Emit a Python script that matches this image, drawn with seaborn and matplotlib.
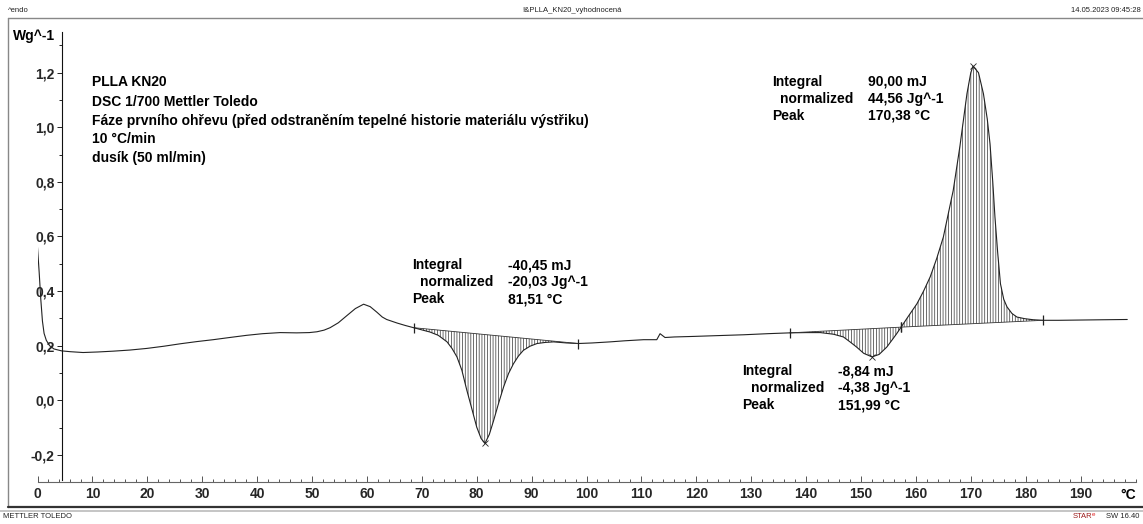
import numpy as np
import matplotlib
matplotlib.use('Agg')
import matplotlib.pyplot as plt
from matplotlib.lines import Line2D
from matplotlib.ticker import MultipleLocator, FixedLocator, FuncFormatter
import seaborn as sns

# DSC curve, first heating of PLLA KN20
temperature = [
    0.0, 0.3, 0.6, 0.9, 1.2, 1.6, 2.2, 3.0, 4.4, 6.0, 8.3, 11.0, 13.8, 16.8,
    19.9, 23.0, 26.0, 29.0, 32.0, 35.0, 38.1, 41.0, 44.2, 47.2, 49.5, 50.9,
    52.2, 53.3, 54.8, 56.4, 57.9, 59.4, 60.6, 61.8, 62.8, 63.6, 65.5, 67.0,
    68.5, 70.0, 71.5, 73.0, 74.6, 75.5, 76.4, 77.3, 78.2, 79.1, 80.0, 80.8,
    81.5, 82.3, 83.1, 84.0, 84.9, 85.8, 86.7, 87.6, 88.5, 89.7, 91.0, 92.5,
    94.0, 96.4, 98.5, 101.0, 104.3, 107.0, 110.4, 112.8, 113.4, 114.3, 116.0,
    119.5, 124.0, 128.6, 133.0, 137.0, 140.0, 142.6, 145.0, 146.8, 148.0,
    149.2, 150.5, 152.0, 153.3, 154.7, 155.7, 156.5, 157.3, 158.7, 160.2,
    161.4, 162.6, 163.8, 165.0, 166.8, 168.0, 169.3, 170.0, 170.4, 171.4,
    172.3, 173.0, 173.5, 174.0, 174.4, 174.9, 175.4, 176.0, 176.6, 177.5,
    178.4, 179.8, 181.4, 183.2, 186.0, 190.0, 194.0, 198.5,
]
heat_flow = [
    0.56, 0.47, 0.37, 0.29, 0.245, 0.22, 0.20, 0.188, 0.181, 0.178, 0.175,
    0.177, 0.18, 0.184, 0.19, 0.198, 0.207, 0.215, 0.222, 0.23, 0.238, 0.244,
    0.248, 0.247, 0.248, 0.251, 0.257, 0.266, 0.284, 0.311, 0.336, 0.352,
    0.343, 0.323, 0.305, 0.296, 0.283, 0.274, 0.266, 0.258, 0.25, 0.238,
    0.214, 0.19, 0.159, 0.11, 0.037, -0.03, -0.098, -0.14, -0.158, -0.125,
    -0.073, -0.01, 0.049, 0.098, 0.134, 0.162, 0.183, 0.198, 0.208, 0.212,
    0.214, 0.21, 0.208, 0.21, 0.214, 0.218, 0.222, 0.222, 0.244, 0.23, 0.232,
    0.234, 0.237, 0.24, 0.244, 0.247, 0.248, 0.248, 0.242, 0.232, 0.214,
    0.195, 0.172, 0.159, 0.168, 0.195, 0.222, 0.244, 0.268, 0.31, 0.354, 0.40,
    0.452, 0.52, 0.598, 0.769, 0.928, 1.123, 1.20, 1.224, 1.20, 1.123, 1.03,
    0.94, 0.80, 0.671, 0.54, 0.427, 0.37, 0.342, 0.318, 0.305, 0.299, 0.295,
    0.293, 0.293, 0.294, 0.295, 0.296,
]

# evaluated integrations: limits (°C) and results
integration_limits = [(68.5, 98.5), (137.0, 157.3), (157.3, 183.2)]
peak_temps = [81.51, 151.99, 170.38]
integral_mj = ['-40,45 mJ', '-8,84 mJ', '90,00 mJ']
normalized_jg = ['-20,03 Jg^-1', '-4,38 Jg^-1', '44,56 Jg^-1']
peak_text = ['81,51 °C', '151,99 °C', '170,38 °C']

info_lines = [
    'PLLA KN20',
    'DSC 1/700 Mettler Toledo',
    'Fáze prvního ohřevu (před odstraněním tepelné historie materiálu výstřiku)',
    '10 °C/min',
    'dusík (50 ml/min)',
]

x_major = list(range(0, 200, 10))
y_major = [-0.2, 0.0, 0.2, 0.4, 0.6, 0.8, 1.0, 1.2]

W, H = 1143, 524


def px(x, y):
    return x / W, 1 - y / H


sns.set_theme(style='white')
plt.rcParams['font.family'] = ['Liberation Sans', 'DejaVu Sans']
plt.rcParams['axes.unicode_minus'] = False
plt.rcParams['hatch.linewidth'] = 0.5

fig = plt.figure(figsize=(W / 100, H / 100), dpi=100)
fig.patch.set_facecolor('white')
ax = fig.add_axes([37.5 / W, (H - 482) / H, 1098 / W, 450 / H])
ax.set_facecolor('none')

sns.lineplot(x=temperature, y=heat_flow, ax=ax, color='#222222', lw=0.8,
             estimator=None, sort=False)

t = np.array(temperature)
q = np.array(heat_flow)
for (t0, t1), tp in zip(integration_limits, peak_temps):
    q0, q1 = np.interp([t0, t1], t, q)
    m = (t >= t0) & (t <= t1)
    base = np.interp(t[m], [t0, t1], [q0, q1])
    ax.fill_between(t[m], q[m], base, facecolor='none', edgecolor='#333333',
                    hatch='||||||', lw=0)
    ax.plot([t0, t1], [q0, q1], color='#333333', lw=0.6)
    ax.plot([t0, t1], [q0, q1], ls='none', marker='|', ms=7, mew=0.9,
            color='#222222')
    ax.plot([tp], [np.interp(tp, t, q)], ls='none', marker='x', ms=4,
            mew=0.6, color='#222222')

ax.set_xlim(0, 200)
ax.set_ylim(-0.2993, 1.3491)
ax.set_xlabel('')
ax.set_ylabel('')

for s in ['top', 'right']:
    ax.spines[s].set_visible(False)
ax.spines['left'].set_position(('data', 4.4))
ax.spines['left'].set_color('#111111')
ax.spines['left'].set_linewidth(0.8)
ax.spines['left'].set_bounds(-0.292, 1.349)
ax.spines['bottom'].set_color('#666666')
ax.spines['bottom'].set_linewidth(0.8)

ax.xaxis.set_major_locator(FixedLocator(x_major))
ax.xaxis.set_minor_locator(MultipleLocator(2))
ax.yaxis.set_major_locator(FixedLocator(y_major))
ax.yaxis.set_minor_locator(MultipleLocator(0.1))
ax.yaxis.set_major_formatter(FuncFormatter(lambda v, p: f'{v:.1f}'.replace('.', ',')))

ax.tick_params(axis='x', which='both', bottom=True, direction='in',
               color='#555555', width=0.7, labelsize=10, pad=3.5)
ax.tick_params(axis='x', which='major', length=4)
ax.tick_params(axis='x', which='minor', length=2)
ax.tick_params(axis='y', which='both', left=True, direction='out',
               color='#222222', width=0.7, labelsize=10, pad=1.5)
ax.tick_params(axis='y', which='major', length=3.5)
ax.tick_params(axis='y', which='minor', length=2.5)
for lab in ax.get_xticklabels() + ax.get_yticklabels():
    lab.set_fontweight('bold')

bold = dict(fontsize=10, fontweight='bold', color='black', va='baseline')
fig.text(*px(1128, 499), '°C', ha='center', **bold)
fig.text(*px(55, 40), 'Wg^-1', ha='right', **bold)

# measurement info block
for i, line in enumerate(info_lines):
    y = 86 + i * 18.5 + (1.5 if i else 0)
    fig.text(*px(92, y), line, ha='left', **bold)

# integration result blocks
blocks = [(411.7, 507.7, 269), (742.3, 837.7, 375), (771.7, 867.7, 85.7)]
for (xl, xv, yb), a, b, c in zip(blocks, integral_mj, normalized_jg, peak_text):
    fig.text(*px(xl, yb), 'Integral', ha='left', **bold)
    fig.text(*px(xl + 8.5, yb + 17), 'normalized', ha='left', **bold)
    fig.text(*px(xl, yb + 34), 'Peak', ha='left', **bold)
    for k, v in enumerate([a, b, c]):
        fig.text(*px(xv, yb + 17 * k), v, ha='left', **bold)

# header / footer of the instrument printout
small = dict(fontsize=5.5, color='#222222', va='center')
fig.text(*px(8, 10), '^endo', ha='left', **small)
fig.text(*px(572, 10), '!&PLLA_KN20_vyhodnocená', ha='center', **small)
fig.text(*px(1141, 10), '14.05.2023 09:45:28', ha='right', **small)
fig.text(*px(3, 517), 'METTLER TOLEDO', ha='left', **small)
fig.text(*px(1139, 517), 'SW 16.40', ha='right', **small)
fig.text(*px(1073, 517), 'STAR', ha='left', fontsize=5.5, color='#9b1b1b',
         va='center')
fig.text(*px(1092, 515), 'e', ha='left', fontsize=4.5, color='#e02020',
         va='center')

frame = [((8, 18), (1143, 18), '#888888', 1.0),
         ((8, 18), (8, 507), '#888888', 1.0),
         ((8, 507), (1143, 507), '#333333', 1.6),
         ((0, 511), (1143, 511), '#bbbbbb', 1.2)]
for (x0, y0), (x1, y1), c, lw in frame:
    fig.add_artist(Line2D([x0 / W, x1 / W], [1 - y0 / H, 1 - y1 / H],
                          transform=fig.transFigure, color=c, lw=lw))

fig.savefig('out.png', dpi=100)
